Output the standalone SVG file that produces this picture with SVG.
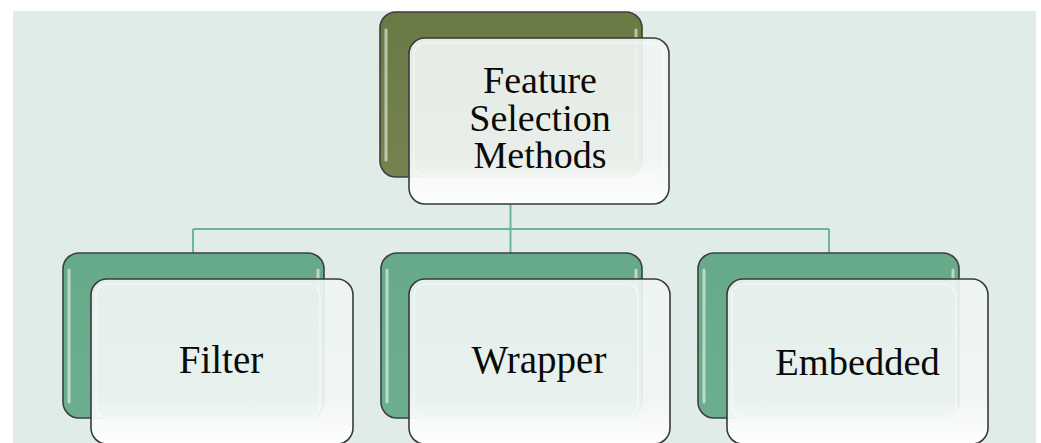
<svg xmlns="http://www.w3.org/2000/svg" width="1041" height="443" viewBox="0 0 1041 443">
  <style>
    .back { stroke: #3f3f3f; stroke-width: 1.6; }
    .olive { fill: url(#olive); }
    .green { fill: url(#green); }
    .front { fill: url(#frontFill); stroke: #3a3a3a; stroke-width: 1.6; }
    .gloss { fill: none; stroke: #ffffff; stroke-opacity: 0.55; stroke-width: 3; stroke-linecap: round; }
    .inner { fill: none; stroke: #ffffff; stroke-opacity: 0.6; stroke-width: 1.2; }
    .conn { fill: none; stroke: #6db59a; stroke-width: 2; }
    .label { font-family: "Liberation Serif", "Times New Roman", serif; fill: #0a0a0a; text-anchor: middle; }
  </style>
  <defs>
    <linearGradient id="olive" x1="0" y1="0" x2="0" y2="1">
      <stop offset="0" stop-color="#6a7a44"/>
      <stop offset="1" stop-color="#748350"/>
    </linearGradient>
    <linearGradient id="green" x1="0" y1="0" x2="0" y2="1">
      <stop offset="0" stop-color="#66aa8a"/>
      <stop offset="1" stop-color="#6caf90"/>
    </linearGradient>
    <linearGradient id="frontFill" x1="0" y1="0" x2="0" y2="1">
      <stop offset="0" stop-color="#eef5f2" stop-opacity="0.93"/>
      <stop offset="0.7" stop-color="#f1f6f4" stop-opacity="0.93"/>
      <stop offset="1" stop-color="#ffffff" stop-opacity="0.97"/>
    </linearGradient>
  </defs>

  <rect x="13" y="11" width="1023" height="432" fill="#e0ece8"/>

  <g id="connectors">
    <path class="conn" d="M510.5 204 V229 M193 229 H829 M193 229 V253 M510.5 229 V253 M829 229 V253"/>
  </g>

  <g id="node-root">
    <rect class="back olive" x="380" y="12" width="262" height="165" rx="16"/>
    <path class="gloss" d="M386 30 V160 M636 30 V160"/>
    <rect class="front" x="409" y="38" width="260" height="166" rx="16"/>
    <rect class="inner" x="414" y="43" width="250" height="133" rx="12"/>
    <text class="label" font-size="38" x="540" y="93">Feature<tspan x="540" y="131">Selection</tspan><tspan x="540" y="168">Methods</tspan></text>
  </g>

  <g id="node-filter">
    <rect class="back green" x="63" y="253" width="261" height="165" rx="16"/>
    <path class="gloss" d="M69 270 V402 M318 270 V290"/>
    <rect class="front" x="91" y="279" width="262" height="165" rx="16"/>
    <rect class="inner" x="96" y="284" width="224" height="134" rx="12"/>
    <text class="label" font-size="39" x="221" y="373">Filter</text>
  </g>

  <g id="node-wrapper">
    <rect class="back green" x="381" y="253" width="261" height="165" rx="16"/>
    <path class="gloss" d="M387 270 V402 M636 270 V290"/>
    <rect class="front" x="409" y="279" width="261" height="165" rx="16"/>
    <rect class="inner" x="414" y="284" width="224" height="134" rx="12"/>
    <text class="label" font-size="39" x="539" y="373">Wrapper</text>
  </g>

  <g id="node-embedded">
    <rect class="back green" x="698" y="253" width="261" height="165" rx="16"/>
    <path class="gloss" d="M704 270 V402 M953 270 V290"/>
    <rect class="front" x="727" y="279" width="261" height="165" rx="16"/>
    <rect class="inner" x="732" y="284" width="224" height="134" rx="12"/>
    <text class="label" font-size="38.5" x="857.5" y="375">Embedded</text>
  </g>
</svg>
